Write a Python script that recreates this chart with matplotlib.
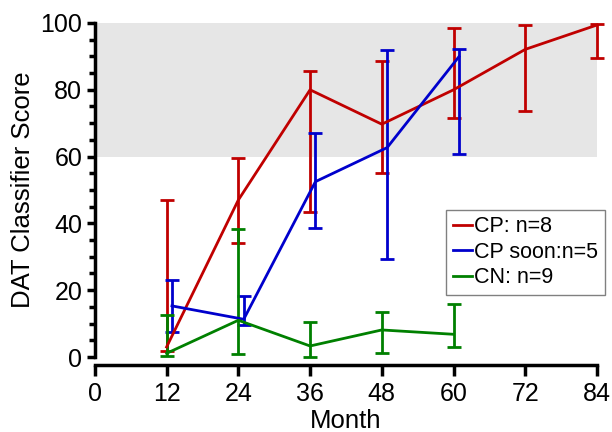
import numpy as np
import matplotlib
matplotlib.use("Agg")
import matplotlib.pyplot as plt
from matplotlib.ticker import MultipleLocator
from matplotlib.lines import Line2D

plt.rcParams['font.family'] = ['Liberation Sans', 'DejaVu Sans']

# CP: n=8
cp_month = [12, 24, 36, 48, 60, 72, 84]
cp_mean = [3, 47, 80, 69.7, 80, 92.1, 99.4]
cp_low = [1.8, 34, 43.3, 55, 71.6, 73.6, 89.6]
cp_high = [47, 59.6, 85.7, 88.6, 98.6, 99.3, 99.6]

# CP soon: n=5
soon_month = [12, 24, 36, 48, 60]
soon_mean = [15.3, 11.3, 52.5, 62.7, 89.9]
soon_low = [7.5, 9.7, 38.5, 29.2, 60.7]
soon_high = [23, 18.3, 67, 91.9, 92.2]

# CN: n=9
cn_month = [12, 24, 36, 48, 60]
cn_mean = [1.1, 11, 3.3, 8.1, 6.8]
cn_low = [0.4, 0.8, 0, 1.3, 3.1]
cn_high = [12.5, 38.3, 10.4, 13.6, 15.8]

labels = ['CP: n=8', 'CP soon:n=5', 'CN: n=9']
colors = ['#C00000', '#0000CC', '#008000']

fig = plt.figure(figsize=(6.12, 4.32), dpi=100)
ax = fig.add_axes([0.155, 0.1736, 0.8205, 0.7732])

ax.axhspan(60, 100, color='#E6E6E6', zorder=0, lw=0)

series = [
    (cp_month, cp_mean, cp_low, cp_high, 0.0),
    (soon_month, soon_mean, soon_low, soon_high, 0.9),
    (cn_month, cn_mean, cn_low, cn_high, 0.0),
]
for (m, mean, lo, hi, shift), c in zip(series, colors):
    x = np.array(m) + shift
    mean = np.array(mean)
    yerr = [mean - np.array(lo), np.array(hi) - mean]
    eb = ax.errorbar(x, mean, yerr=yerr, color=c, lw=2, elinewidth=2,
                     capsize=5, capthick=2, clip_on=False, zorder=3)
    for art in eb.lines[1] + eb.lines[2]:
        art.set_clip_on(False)

ax.set_xlim(0, 84)
ax.set_ylim(0, 100)
ax.set_xticks(np.arange(0, 85, 12))
ax.set_yticks(np.arange(0, 101, 20))
ax.yaxis.set_minor_locator(MultipleLocator(5))

for s in ['top', 'right']:
    ax.spines[s].set_visible(False)
ax.spines['left'].set_linewidth(2.5)
ax.spines['bottom'].set_linewidth(2.5)
ax.spines['bottom'].set_position(('outward', 6))
ax.spines['bottom'].set_capstyle('projecting')
ax.spines['left'].set_capstyle('projecting')

ax.tick_params(axis='both', which='major', labelsize=18, width=2.5, length=6, direction='out', pad=3)
ax.tick_params(axis='x', which='major', length=8, pad=4)
ax.tick_params(axis='y', which='minor', width=2.5, length=4)

ax.set_xlabel('Month', fontsize=18.5, labelpad=2)
ax.set_ylabel('DAT Classifier Score', fontsize=18.5, labelpad=4)

handles = [Line2D([], [], color=c, lw=2) for c in colors]
leg = ax.legend(handles, labels, loc='upper left', bbox_to_anchor=(0.70, 0.44), fontsize=15.5,
                handlelength=0.9, handletextpad=0.1, borderpad=0.3,
                labelspacing=0.2, fancybox=False, framealpha=1,
                borderaxespad=0)
leg.get_frame().set_edgecolor('#808080')
leg.get_frame().set_linewidth(1)

fig.savefig('out.png', dpi=100)
